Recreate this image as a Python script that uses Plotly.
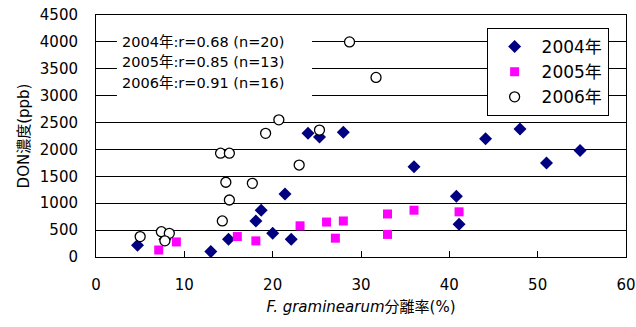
import plotly.graph_objects as go

# 2004
x2004 = [4.7, 7.8, 13.0, 15.0, 18.1, 18.7, 20.0, 21.4, 22.1, 24.0, 25.3, 28.0, 36.0, 40.8, 41.1, 44.1, 48.0, 51.0, 54.8]
y2004 = [220, 330, 100, 330, 670, 870, 440, 1170, 330, 2300, 2230, 2320, 1680, 1130, 610, 2200, 2380, 1750, 1980]
# 2005
x2005 = [7.1, 9.1, 16.0, 18.1, 23.1, 26.1, 27.1, 28.0, 33.0, 33.0, 36.0, 41.1]
y2005 = [130, 280, 380, 300, 580, 650, 350, 670, 800, 420, 870, 840]
# 2006
x2006 = [5.0, 7.4, 8.3, 7.8, 14.1, 15.1, 14.7, 15.1, 14.3, 17.7, 19.2, 20.7, 23.0, 25.3, 28.7, 31.7]
y2006 = [380, 470, 440, 300, 1930, 1930, 1390, 1060, 670, 1370, 2300, 2550, 1710, 2360, 4000, 3340]

names = ["2004年", "2005年", "2006年"]
stats = ["2004年:r=0.68 (n=20)", "2005年:r=0.85 (n=13)", "2006年:r=0.91 (n=16)"]
x_ticks = [0, 10, 20, 30, 40, 50, 60]
y_ticks = [0, 500, 1000, 1500, 2000, 2500, 3000, 3500, 4000, 4500]

FONT = "DejaVu Sans, Noto Sans CJK JP"

fig = go.Figure()
fig.add_trace(go.Scatter(x=x2004, y=y2004, mode="markers", name=names[0],
                         marker=dict(symbol="diamond", size=10, color="#000080")))
fig.add_trace(go.Scatter(x=x2005, y=y2005, mode="markers", name=names[1],
                         marker=dict(symbol="square", size=9, color="#FF00FF")))
fig.add_trace(go.Scatter(x=x2006, y=y2006, mode="markers", name=names[2],
                         marker=dict(symbol="circle", size=10, color="white",
                                     line=dict(color="black", width=1.3))))

# white box behind the statistics text
fig.add_shape(type="rect", xref="x", yref="y", x0=2.37, x1=24.46, y0=2730, y1=4230,
              fillcolor="white", line=dict(width=0), layer="above")
for i, (t, yy) in enumerate(zip(stats, [4000, 3620, 3235])):
    fig.add_annotation(x=2.75, y=yy, xref="x", yref="y", text=t, showarrow=False,
                       xanchor="left", yanchor="middle",
                       font=dict(family=FONT, size=14.5, color="black"))

fig.update_layout(
    width=636, height=327,
    margin=dict(l=96, r=10, t=15, b=70),
    paper_bgcolor="white", plot_bgcolor="white",
    font=dict(family=FONT, size=15, color="black"),
    showlegend=True,
    legend=dict(x=0.737, y=0.946, xanchor="left", yanchor="top",
                bgcolor="white", bordercolor="black", borderwidth=1,
                font=dict(family=FONT, size=17, color="black"),
                itemwidth=44),
    xaxis=dict(range=[0, 60], tickvals=x_ticks, showgrid=False, zeroline=False,
               automargin=False, ticklabeloverflow="allow",
               showline=True, linecolor="black", linewidth=1, mirror=True,
               ticks="inside", ticklen=6, tickcolor="black",
               ticklabelstandoff=14,
               title=dict(text="<i>F. graminearum</i>分離率(%)", standoff=8,
                          font=dict(family=FONT, size=15))),
    yaxis=dict(range=[0, 4500], tickvals=y_ticks, showgrid=True, gridcolor="black",
               gridwidth=1, zeroline=False, automargin=False, ticklabeloverflow="allow",
               showline=True, linecolor="black", linewidth=1, mirror=True,
               ticks="", ticklabelstandoff=14,
               title=dict(text="DON濃度(ppb)", standoff=6,
                          font=dict(family=FONT, size=15))),
)

fig.write_html("out.html", config={"displayModeBar": False},
               post_script="document.body.style.margin='0';")
